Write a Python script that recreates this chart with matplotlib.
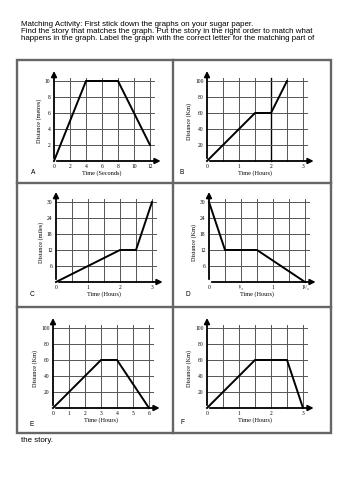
import matplotlib.pyplot as plt
from matplotlib.patches import Rectangle

# distance-time data for the six cards
a_time = [0, 4, 8, 12]
a_dist = [0, 10, 10, 2]
b_time = [0, 1.5, 2, 2.5]
b_dist = [0, 60, 60, 100]
c_time = [0, 2, 2.5, 3]
c_dist = [0, 12, 12, 30]
d_time = [0, 0.25, 0.75, 1.5]
d_dist = [30, 12, 12, 0]
e_time = [0, 3, 4, 6]
e_dist = [0, 60, 60, 0]
f_time = [0, 1.5, 2.5, 3]
f_dist = [0, 60, 60, 0]

a_xticks = [0, 2, 4, 6, 8, 10, 12]
a_yticks = [2, 4, 6, 8, 10]
hour_ticks = [0, 1, 2, 3]
km_ticks = [20, 40, 60, 80, 100]
mile_ticks = [6, 12, 18, 24, 30]
d_xticks = [0, 0.5, 1, 1.5]
d_xlabels = ["0", "¹/₂", "1", "1¹/₂"]
e_xticks = [0, 1, 2, 3, 4, 5, 6]

header = ("Matching Activity: First stick down the graphs on your sugar paper.\n"
          "Find the story that matches the graph. Put the story in the right order to match what\n"
          "happens in the graph. Label the graph with the correct letter for the matching part of")
footer = "the story."

W, H = 354, 500
fig = plt.figure(figsize=(3.54, 5.0), dpi=100)

serif = ["Liberation Serif", "DejaVu Serif"]
sans = ["Liberation Sans", "DejaVu Sans"]

# card borders
fig.add_artist(Rectangle((17 / W, 1 - 433 / H), (331 - 17) / W, (433 - 60) / H,
                         transform=fig.transFigure, fill=False, ec="#666666", lw=1.7))
fig.add_artist(plt.Line2D([173 / W, 173 / W], [1 - 60 / H, 1 - 433 / H],
                          transform=fig.transFigure, color="#666666", lw=1.7))
for yy in (183, 307):
    fig.add_artist(plt.Line2D([17 / W, 331 / W], [1 - yy / H, 1 - yy / H],
                              transform=fig.transFigure, color="#666666", lw=1.7))

fig.text(21 / W, 1 - 21 / H, header, fontsize=5.7, family=sans, va="top", linespacing=1.05)
fig.text(21 / W, 1 - 440 / H, footer, fontsize=5.7, family=sans, va="center")

panels = [
    ("A", a_time, a_dist, 12, 10, 2, 2, a_xticks, [str(v) for v in a_xticks], a_yticks,
     "Distance (metres)", "Time (Seconds)", (54, 161), (33, 172)),
    ("B", b_time, b_dist, 3, 100, 0.5, 20, hour_ticks, [str(v) for v in hour_ticks], km_ticks,
     "Distance (Km)", "Time (Hours)", (207, 161), (182, 172)),
    ("C", c_time, c_dist, 3, 30, 0.5, 6, hour_ticks, [str(v) for v in hour_ticks], mile_ticks,
     "Distance (miles)", "Time (Hours)", (56, 282), (32, 294)),
    ("D", d_time, d_dist, 1.5, 30, 0.25, 6, d_xticks, d_xlabels, mile_ticks,
     "Distance (Km)", "Time (Hours)", (209, 282), (188, 295)),
    ("E", e_time, e_dist, 6, 100, 1, 20, e_xticks, [str(v) for v in e_xticks], km_ticks,
     "Distance (Km)", "Time (Hours)", (53, 408), (32, 424)),
    ("F", f_time, f_dist, 3, 100, 0.5, 20, hour_ticks, [str(v) for v in hour_ticks], km_ticks,
     "Distance (Km)", "Time (Hours)", (207, 408), (183, 422)),
]

aw, ah = 96, 80
for (letter, t, d, xmax, ymax, xstep, ystep, xt, xl, yt, ylab, xlab, origin, lpos) in panels:
    x0, y0 = origin
    ax = fig.add_axes([x0 / W, 1 - y0 / H, aw / W, ah / H])
    ax.set_xlim(0, xmax)
    ax.set_ylim(0, ymax)
    for s in ax.spines.values():
        s.set_visible(False)
    ax.patch.set_alpha(0)

    ex, ey = xmax * 0.04, ymax * 0.04
    nx = int(round(xmax / xstep))
    ny = int(round(ymax / ystep))
    for i in range(1, nx + 1):
        xv = i * xstep
        dark = (letter == "B" and abs(xv - 2) < 1e-9)
        ax.plot([xv, xv], [0, ymax + ey], color="black" if dark else "#555555",
                lw=1.0 if dark else 0.7, clip_on=False, zorder=1)
    for j in range(1, ny + 1):
        yv = j * ystep
        ax.plot([0, xmax + ex], [yv, yv], color="#555555", lw=0.7, clip_on=False, zorder=1)

    arrow = dict(arrowstyle="-|>", color="black", lw=1.3, mutation_scale=8)
    ax.annotate("", xy=(xmax * 1.14, 0), xytext=(0, 0), arrowprops=arrow,
                annotation_clip=False, zorder=3)
    ax.annotate("", xy=(0, ymax * 1.16), xytext=(0, 0), arrowprops=arrow,
                annotation_clip=False, zorder=3)

    ax.plot(t, d, color="black", lw=1.4, zorder=4, clip_on=False, solid_joinstyle="miter")

    ax.set_xticks(xt)
    ax.set_xticklabels(xl, family=serif, fontsize=4)
    ax.set_yticks(yt)
    ax.set_yticklabels([str(v) for v in yt], family=serif, fontsize=4)
    ax.tick_params(length=0, pad=2.5)
    ax.set_ylabel(ylab, family=serif, fontsize=4.5, labelpad=2)
    ax.set_xlabel(xlab, family=serif, fontsize=4.5, labelpad=0.5)

    fig.text(lpos[0] / W, 1 - lpos[1] / H, letter, family=sans, fontsize=4.8,
             ha="center", va="center")

fig.savefig("out.png", dpi=100)
